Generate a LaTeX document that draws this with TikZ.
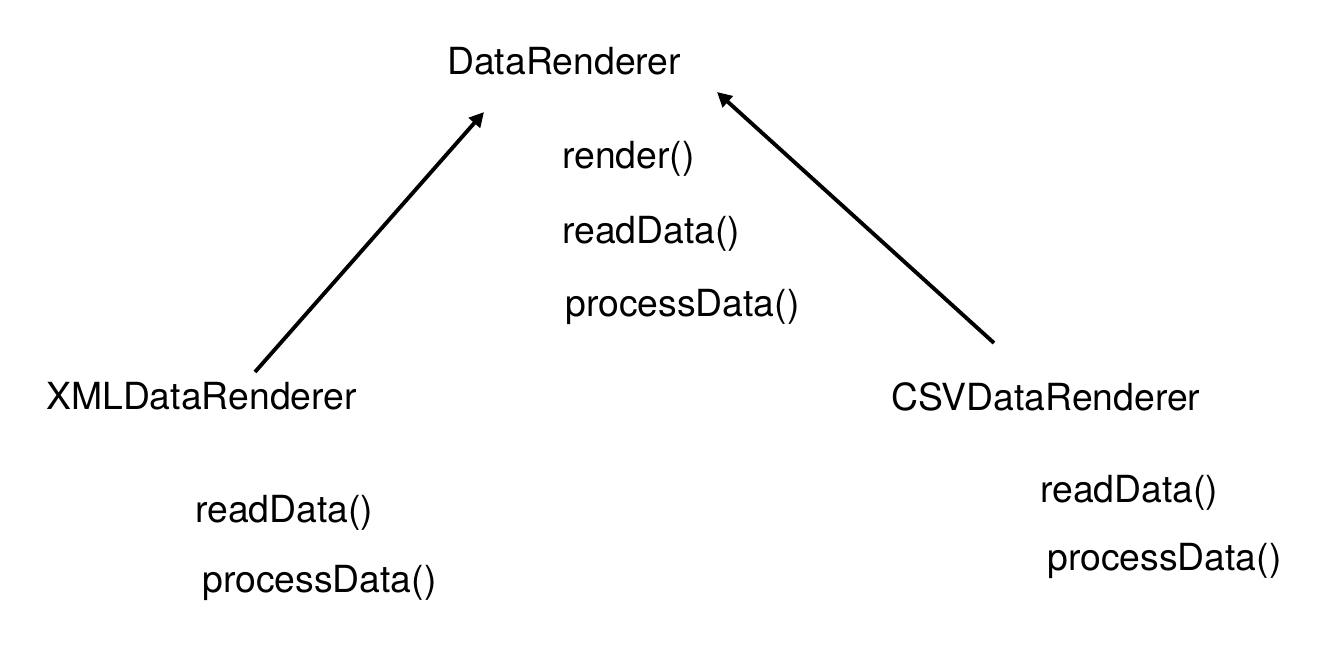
\documentclass[tikz,border=0pt]{standalone}
\usepackage{fontspec}
\setmainfont{TeX Gyre Heros}
\usetikzlibrary{arrows.meta,positioning}

\begin{document}
\begin{tikzpicture}[x=0.75pt,y=-0.75pt,
        entry/.style={anchor=base west, inner sep=0pt, font=\fontsize{28}{33}\selectfont},
        inherits/.style={line width=2.9pt, -{Triangle[length=11pt,width=11pt]}}]
        \useasboundingbox (0,0) rectangle (1338,662);
        % Base class
        \node[entry] (base) at (447,74) {DataRenderer};
        \foreach \m/\x/\y in {render/562/168, readData/562/243, processData/565/316} {
                \node[entry] (base-\m) at (\x,\y) {\m()};
            }
        % XML subclass
        \node[entry] (xml) at (46,409) {XMLDataRenderer};
        \foreach \m/\x/\y in {readData/195/522, processData/202/592} {
                \node[entry] (xml-\m) at (\x,\y) {\m()};
            }
        % CSV subclass
        \node[entry] (csv) at (891,410) {CSVDataRenderer};
        \foreach \m/\x/\y in {readData/1040/502, processData/1047/570} {
                \node[entry] (csv-\m) at (\x,\y) {\m()};
            }
        % Inheritance arrows
        \coordinate (xml-tail) at (255,372);
        \coordinate (base-left) at (484,112);
        \coordinate (csv-tail) at (994,343);
        \coordinate (base-right) at (717,92);
        \draw[inherits] (xml-tail) -- (base-left);
        \draw[inherits] (csv-tail) -- (base-right);
    \end{tikzpicture}
\end{document}
